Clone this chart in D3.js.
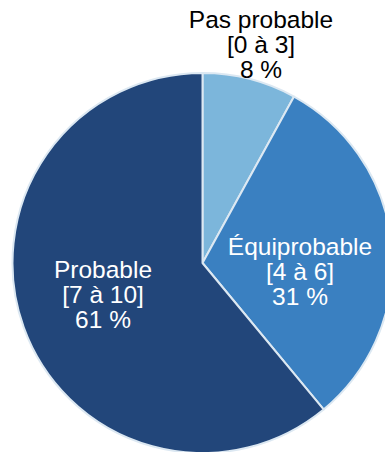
<!DOCTYPE html>
<html lang="fr">
<head>
    <meta charset="UTF-8">
    <title>Pie</title>
    <script src="https://cdn.jsdelivr.net/npm/d3@7"></script>
    <style>
        body { margin: 0; background: #fff; }
        svg { display: block; }
        text { font-family: "Liberation Sans", Arial, sans-serif; font-size: 24.5px; }
    </style>
</head>
<body>
    <svg width="385" height="452"></svg>

    <script>
        // data
        const categories = ["Pas probable", "Équiprobable", "Probable"];
        const ranges = ["[0 à 3]", "[4 à 6]", "[7 à 10]"];
        const shares = [8, 31, 61];

        const colors = ["#7cb6db", "#3a80c1", "#22467a"];
        // label anchor (x, y of first baseline) and text colour
        const labelPos = [[261, 28, "#000"], [300, 255, "#fff"], [103, 278, "#fff"]];

        const svg = d3.select("svg");
        const cx = 202.5, cy = 263, r = 190;

        const pie = d3.pie().sort(null).value(d => d)(shares);
        const arc = d3.arc().innerRadius(0).outerRadius(r);

        const g = svg.append("g").attr("transform", `translate(${cx},${cy})`);
        g.selectAll("path")
            .data(pie)
            .enter().append("path")
            .attr("d", arc)
            .attr("fill", (d, i) => colors[i])
            .attr("stroke", "#dce8f2")
            .attr("stroke-width", 2)
            .attr("stroke-linejoin", "round");

        const lab = svg.selectAll("text.lab")
            .data(categories)
            .enter().append("text")
            .attr("class", "lab")
            .attr("text-anchor", "middle")
            .attr("fill", (d, i) => labelPos[i][2])
            .attr("transform", (d, i) => `translate(${labelPos[i][0]},${labelPos[i][1]})`);

        lab.each(function(d, i) {
            const t = d3.select(this);
            [d, ranges[i], shares[i] + " %"].forEach((s, k) => {
                t.append("tspan").attr("x", 0).attr("y", k * 24.8).text(s);
            });
        });
    </script>
</body>
</html>
